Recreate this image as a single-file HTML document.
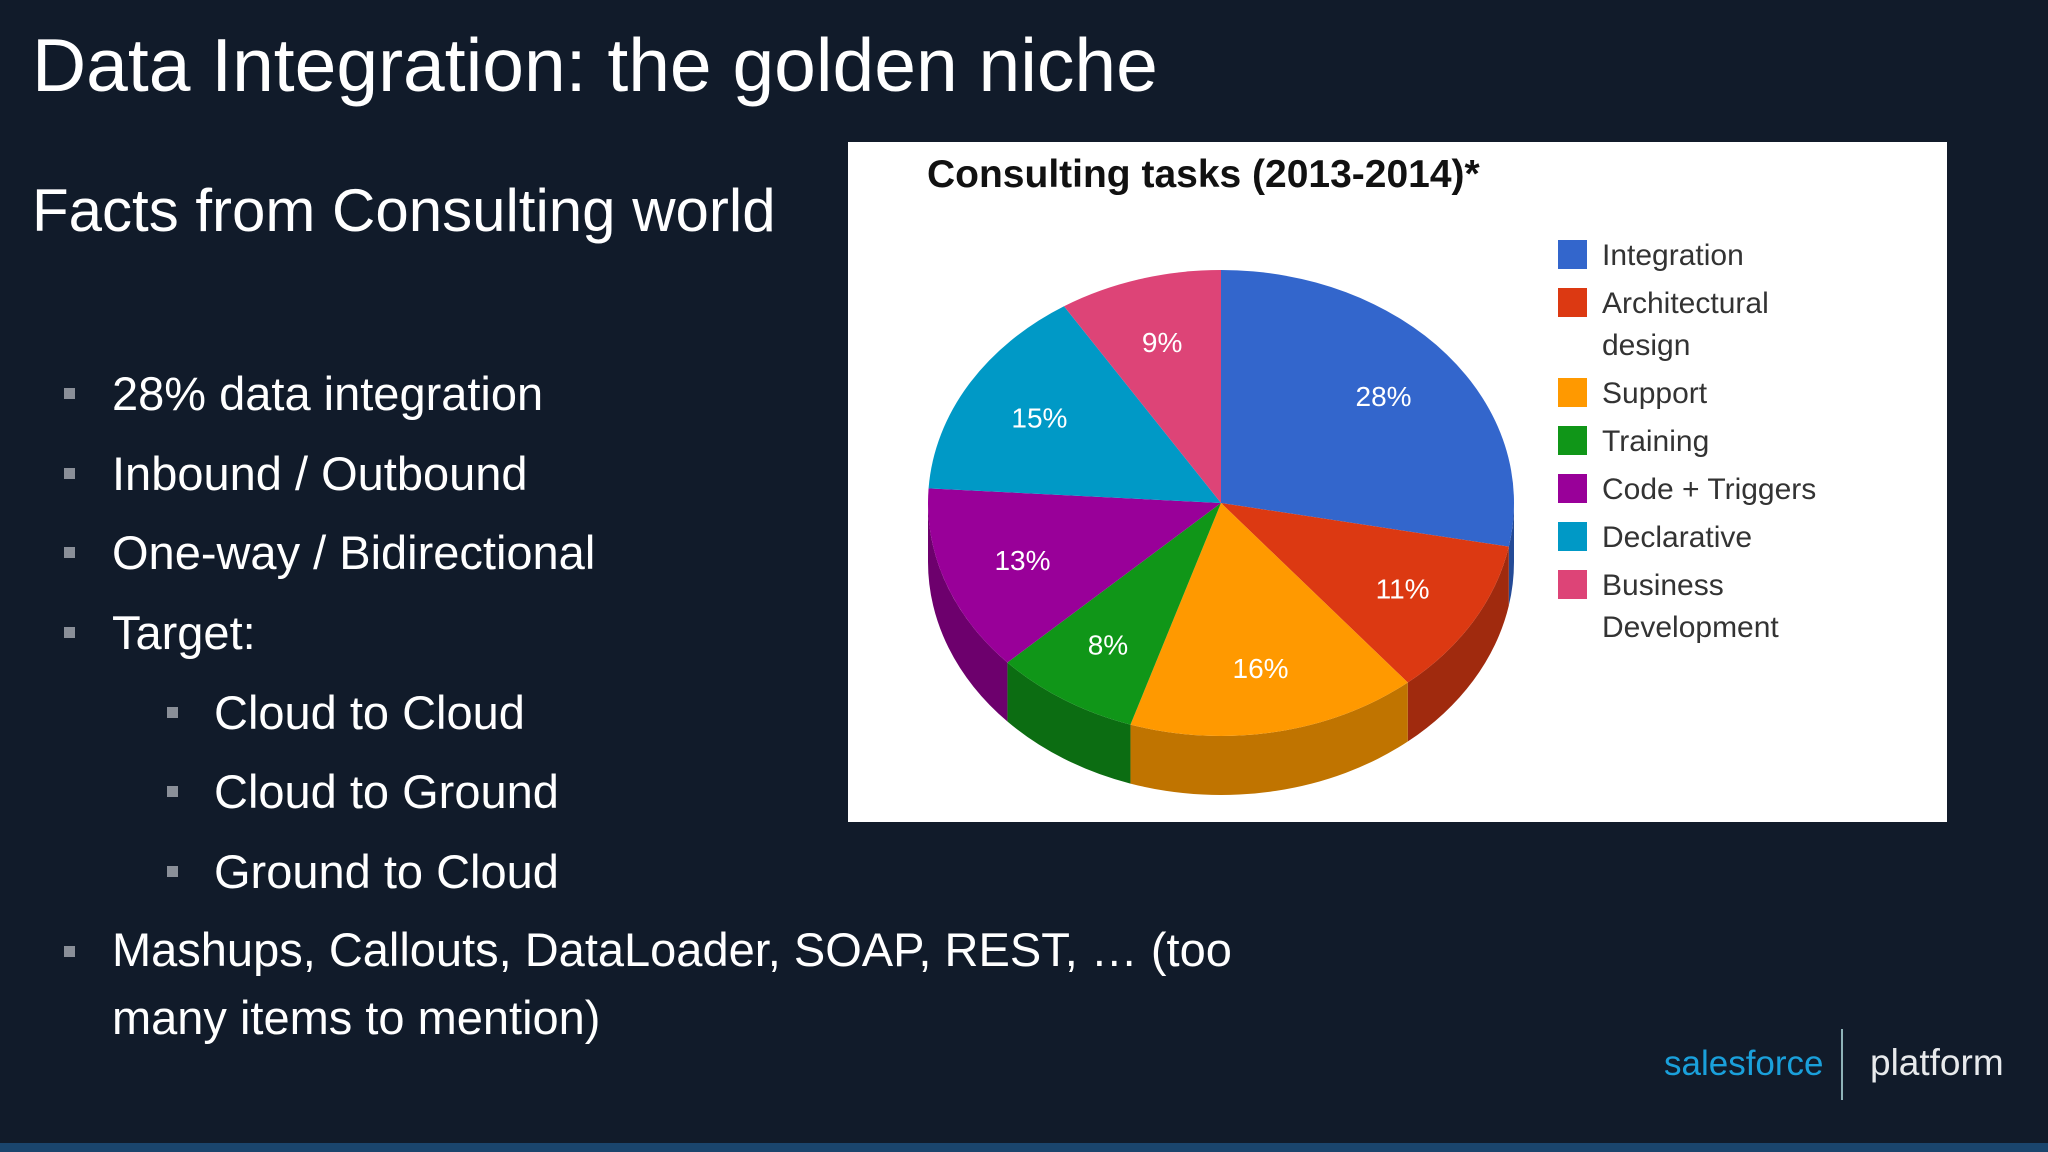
<!DOCTYPE html>
<html><head><meta charset="utf-8">
<style>
html,body{margin:0;padding:0;}
body{width:2048px;height:1152px;background:#111b2a;position:relative;overflow:hidden;font-family:"Liberation Sans",sans-serif;color:#fff;}
.t{position:absolute;white-space:nowrap;}
.b{position:absolute;width:11px;height:11px;background:#8a8f98;}
</style></head>
<body>
<div class="t" style="left:32px;top:22px;font-size:75px;">Data Integration: the golden niche</div>
<div class="t" style="left:32px;top:176px;font-size:60px;">Facts from Consulting world</div>

<div>
<div class="b" style="left:64px;top:388px"></div><div class="t" style="left:112px;top:366px;font-size:47px">28% data integration</div>
<div class="b" style="left:64px;top:468px"></div><div class="t" style="left:112px;top:446px;font-size:47px">Inbound / Outbound</div>
<div class="b" style="left:64px;top:547px"></div><div class="t" style="left:112px;top:525px;font-size:47px">One-way / Bidirectional</div>
<div class="b" style="left:64px;top:627px"></div><div class="t" style="left:112px;top:605px;font-size:47px">Target:</div>
<div class="b" style="left:167px;top:707px"></div><div class="t" style="left:214px;top:685px;font-size:47px">Cloud to Cloud</div>
<div class="b" style="left:167px;top:786px"></div><div class="t" style="left:214px;top:764px;font-size:47px">Cloud to Ground</div>
<div class="b" style="left:167px;top:866px"></div><div class="t" style="left:214px;top:844px;font-size:47px">Ground to Cloud</div>
<div class="b" style="left:64px;top:946px"></div><div class="t" style="left:112px;top:916px;font-size:47px;line-height:68px">Mashups, Callouts, DataLoader, SOAP, REST, … (too<br>many items to mention)</div>
</div>

<svg id="chart" width="2048" height="1152" style="position:absolute;left:0;top:0">
<rect x="848" y="142" width="1099" height="680" fill="#fff"/>
<text x="927" y="187" font-size="39" font-weight="bold" fill="#111" font-family="Liberation Sans, sans-serif">Consulting tasks (2013-2014)*</text>
<g id="side"></g><g id="top"></g><g id="labels"></g><g id="legend"></g>
</svg>

<div class="t" style="left:1664px;top:1044px;font-size:35px;color:#1aa0db;">salesforce</div>
<div style="position:absolute;left:1841px;top:1029px;width:2px;height:71px;background:#8fb3b8"></div>
<div class="t" style="left:1870px;top:1042px;font-size:37px;color:#e8eaec;">platform</div>
<div style="position:absolute;left:0;top:1143px;width:2048px;height:9px;background:#1a456d"></div>

<script>
const categories=["Integration","Architectural design","Support","Training","Code + Triggers","Declarative","Business Development"];
const values=[28,11,16,8,13,15,9];
const colors=["#3366cc","#dc3912","#ff9900","#109618","#990099","#0099c6","#dd4477"];
const sideColors=["#244a96","#a02a0e","#c07400","#0c6d12","#6d006d","#0070a0","#a8325a"];
const legendLines=[["Integration"],["Architectural","design"],["Support"],["Training"],["Code + Triggers"],["Declarative"],["Business","Development"]];
const NS="http://www.w3.org/2000/svg";
const cx=1221,cy=503,rx=293,ry=233,depth=59;
const total=values.reduce((a,b)=>a+b,0);
function pt(t,r,dy){return [cx+rx*r*Math.sin(t),cy-ry*r*Math.cos(t)+(dy||0)];}
function mk(tag,attrs,parent){const e=document.createElementNS(NS,tag);for(const k in attrs)e.setAttribute(k,attrs[k]);parent.appendChild(e);return e;}
const side=document.getElementById('side'),top_=document.getElementById('top'),lab=document.getElementById('labels'),leg=document.getElementById('legend');
let acc=0;
values.forEach((v,i)=>{
  const t1=acc/total*2*Math.PI,t2=(acc+v)/total*2*Math.PI;acc+=v;
  const s1=Math.max(t1,Math.PI/2),s2=Math.min(t2,1.5*Math.PI);
  if(s2>s1){
    const a=pt(s1,1),b=pt(s2,1);
    const p=mk('path',{d:`M${a[0]},${a[1]} A${rx},${ry} 0 0 1 ${b[0]},${b[1]} L${b[0]},${b[1]+depth} A${rx},${ry} 0 0 0 ${a[0]},${a[1]+depth} Z`,fill:sideColors[i]},side);
    
    
  }
  const a=pt(t1,1),b=pt(t2,1),large=(t2-t1)>Math.PI?1:0;
  const s=mk('path',{d:`M${cx},${cy} L${a[0]},${a[1]} A${rx},${ry} 0 ${large} 1 ${b[0]},${b[1]} Z`,fill:colors[i]},top_);
  
  
  const m=pt((t1+t2)/2,0.72);
  const tx=mk('text',{x:m[0],y:m[1]+10,'text-anchor':'middle','font-size':28,fill:'#fff','font-family':'Liberation Sans, sans-serif'},lab);
  tx.textContent=v+'%';
  
  
});
let ly=240;
legendLines.forEach((lines,i)=>{
  const r=mk('rect',{x:1558,y:ly,width:29,height:29,fill:colors[i]},leg);
  
  
  lines.forEach((ln,j)=>{
    const t=mk('text',{x:1602,y:ly+25+j*42,'font-size':30,fill:'#333','font-family':'Liberation Sans, sans-serif'},leg);
    t.textContent=ln;
    
    
  });
  ly+=48+(lines.length-1)*42;
});
</script>
</body></html>
